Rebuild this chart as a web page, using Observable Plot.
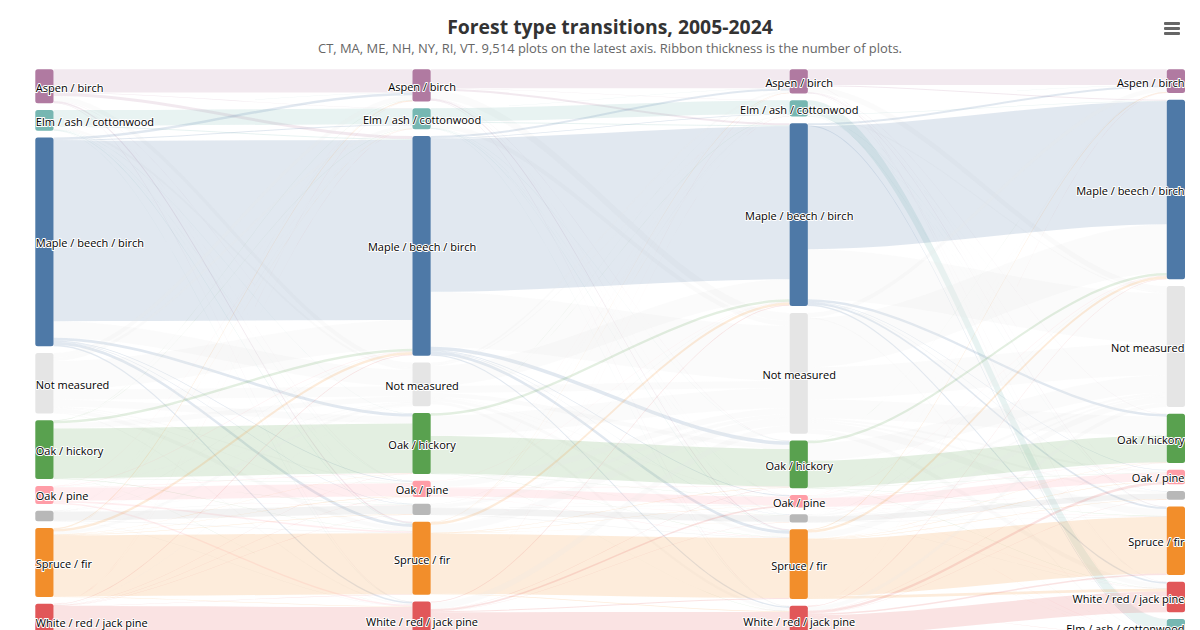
<!DOCTYPE html>
<html lang="en">
<head>
<meta charset="utf-8">
<script src="https://cdn.jsdelivr.net/npm/d3@7"></script>
<script src="https://cdn.jsdelivr.net/npm/@observablehq/plot@0.6"></script>
<style>
html,body{margin:0;padding:0;background:#fff;overflow:hidden;height:630px;font-family:"Open Sans",sans-serif}
#head{position:relative;height:60px;width:1200px}
#title{position:absolute;left:20px;right:0;top:14px;text-align:center;font-size:19.4px;font-weight:700;line-height:26px;color:#333}
#sub{position:absolute;left:20px;right:0;top:39px;text-align:center;font-size:12.95px;line-height:18px;color:#666}
#menu{position:absolute;left:1164px;top:22px;width:16px}
#menu i{display:block;height:2.6px;background:#666;margin-bottom:2.5px;border-radius:1px}
svg{display:block}
</style>
</head>
<body>
<div id="head">
  <div id="title">Forest type transitions, 2005-2024</div>
  <div id="sub">CT, MA, ME, NH, NY, RI, VT. 9,514 plots on the latest axis. Ribbon thickness is the number of plots.</div>
  <div id="menu"><i></i><i></i><i></i></div>
</div>
<div id="chart"></div>
<script>
const categories = ["Aspen / birch","Elm / ash / cottonwood","Maple / beech / birch","Not measured","Oak / hickory","Oak / pine","Other","Spruce / fir","White / red / jack pine"];
const colors = ["#b07aa1","#76b7b2","#4e79a7","#e5e5e5","#59a14f","#ff9da7","#b8b8b8","#f28e2b","#e15759"];
const unlabelled = ["Other"];
const columnOrders = [
  [0,1,2,3,4,5,6,7,8],
  [0,1,2,3,4,5,6,7,8],
  [0,1,2,3,4,5,6,7,8],
  [0,2,3,4,5,6,7,8,1]
];
// Plots moving from each row's type to each column's type, one table per interval.
const flowsA = [
  [430,6,55,92,4,2,2,28,6],
  [2,290,18,46,6,2,2,11,6],
  [46,18,3322,304,55,12,9,55,28],
  [89,59,530,184,127,22,13,74,18],
  [4,4,46,97,915,6,2,6,4],
  [2,2,9,13,6,240,4,28,28],
  [2,2,6,9,2,2,160,9,4],
  [15,4,46,52,6,6,6,1125,9],
  [2,2,13,9,4,4,4,7,609]
];
const flowsB = [
  [350,4,37,148,6,2,2,22,7],
  [2,249,18,92,6,2,2,9,6],
  [37,15,2821,1014,65,15,6,55,26],
  [37,22,369,129,79,9,6,62,55],
  [2,2,46,373,692,2,2,4,2],
  [2,2,6,111,9,153,2,6,4],
  [2,2,6,65,2,4,120,6,2],
  [7,2,46,148,6,6,4,1106,13],
  [2,2,15,120,6,31,4,18,438]
];
const flowsC = [
  [290,4,18,111,6,2,2,7,4],
  [2,258,9,22,2,2,2,2,2],
  [37,18,2268,923,46,9,4,37,30],
  [83,18,903,590,350,37,36,129,84],
  [2,2,46,323,489,6,2,6,4],
  [2,2,7,46,6,157,2,4,4],
  [2,2,4,29,2,2,101,4,2],
  [15,2,46,111,4,7,6,1046,51],
  [2,4,11,74,2,46,6,28,380]
];
const transitions = [flowsA, flowsB, flowsC];

const nodePadding = 125;      // plots-equivalent gap between stacked nodes
const nodeWidth = 0.0483;     // fraction of a column step
const notMeasured = 3;

// Stack nodes per column
const nodes = [];
const tops = columnOrders.map(() => []);
columnOrders.forEach((order, c) => {
  let y = 0;
  order.forEach(i => {
    const out = c < 3 ? d3.sum(transitions[c][i]) : 0;
    const inn = c > 0 ? d3.sum(transitions[c-1], r => r[i]) : 0;
    const v = Math.max(out, inn);
    tops[c][i] = y;
    nodes.push({c, i, name: categories[i], y0: y, y1: y + v, x0: c, x1: c + nodeWidth});
    y += v + nodePadding;
  });
});

// Ribbons, offset at each end in category order
const ribbons = [];
transitions.forEach((m, c) => {
  const outOff = tops[c].slice();
  const inOff = tops[c+1].slice();
  m.forEach((row, s) => row.forEach((v, t) => {
    if (!v) return;
    const key = t === notMeasured ? categories[notMeasured] : categories[s];
    const id = `${c}-${s}-${t}`;
    ribbons.push({id, key, x: c + nodeWidth, y0: outOff[s], y1: outOff[s] + v});
    ribbons.push({id, key, x: c + 1, y0: inOff[t], y1: inOff[t] + v});
    outOff[s] += v;
    inOff[t] += v;
  }));
});

// Ribbon curve: control points at a third of the span
class RibbonCurve {
  constructor(context){ this._context = context; }
  areaStart(){ this._line = 0; }
  areaEnd(){ this._line = NaN; }
  lineStart(){ this._point = 0; }
  lineEnd(){
    if (this._line || (this._line !== 0 && this._point === 1)) this._context.closePath();
    this._line = 1 - this._line;
  }
  point(x, y){
    x = +x; y = +y;
    if (this._point === 0) {
      this._point = 1;
      if (this._line) this._context.lineTo(x, y); else this._context.moveTo(x, y);
    } else {
      const k = (x - this._x0) * 0.33;
      this._context.bezierCurveTo(this._x0 + k, this._y0, x - k, y, x, y);
    }
    this._x0 = x; this._y0 = y;
  }
}
const ribbonCurve = context => new RibbonCurve(context);

const labelled = nodes.filter(d => !unlabelled.includes(d.name));
const mid = d => (d.y0 + d.y1) / 2;
const labelStyle = {text: "name", y: mid, dy: 1.5, fontSize: 11, fill: "#000", stroke: "#fff", strokeWidth: 2, fontFamily: "Open Sans"};

const chart = Plot.plot({
  width: 1200,
  height: 570,
  marginLeft: 35.3,
  marginRight: 15,
  marginTop: 9.3,
  marginBottom: 0,
  x: {domain: [0, 3 + nodeWidth], axis: null},
  y: {domain: [0, (570 - 9.3) * 18.44], range: [9.3, 570], axis: null},
  color: {domain: categories, range: colors},
  style: {background: "transparent", fontFamily: "Open Sans"},
  marks: [
    Plot.area(ribbons, {x1: "x", y1: "y0", y2: "y1", z: "id", fill: "key", fillOpacity: 0.17, curve: ribbonCurve}),
    Plot.rect(nodes, {x1: "x0", x2: "x1", y1: "y0", y2: "y1", fill: "name", rx: 2.5}),
    Plot.text(labelled.filter(d => d.c === 0), {...labelStyle, x: "x0", textAnchor: "start"}),
    Plot.text(labelled.filter(d => d.c === 1 || d.c === 2), {...labelStyle, x: d => (d.x0 + d.x1) / 2, textAnchor: "middle"}),
    Plot.text(labelled.filter(d => d.c === 3), {...labelStyle, x: "x1", textAnchor: "end", dx: -1})
  ]
});
document.getElementById("chart").append(chart);
</script>
</body>
</html>
